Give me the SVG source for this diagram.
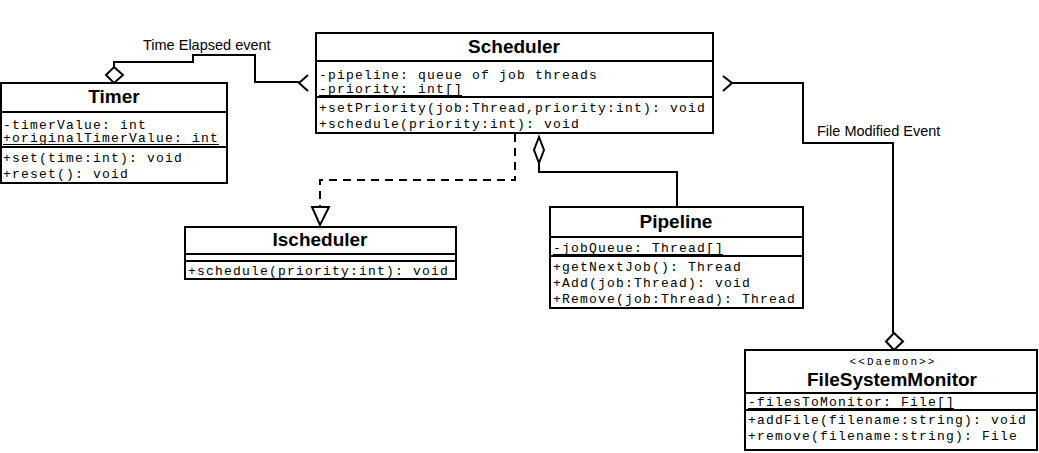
<svg xmlns="http://www.w3.org/2000/svg" width="1039" height="453" viewBox="0 0 1039 453">
<style>
.box{fill:#fff;stroke:#000;stroke-width:2}
.div{stroke:#000;stroke-width:2}
.ul{stroke:#000;stroke-width:1}
.t{font-family:"Liberation Sans",Arial,sans-serif;font-weight:bold;font-size:19px;text-anchor:middle;fill:#000}
.m{font-family:"Liberation Mono","Courier New",monospace;font-size:13px;letter-spacing:1.2px;fill:#000}
.st{font-family:"Liberation Mono","Courier New",monospace;font-size:11px;letter-spacing:2.1px;text-anchor:middle;fill:#000}
.lbl{font-family:"Liberation Sans",Arial,sans-serif;font-size:14.5px;fill:#000}
.ln{fill:none;stroke:#000;stroke-width:2}
.dash{fill:none;stroke:#000;stroke-width:2;stroke-dasharray:8,6}
.hd{fill:#fff;stroke:#000;stroke-width:2}
</style>
<rect width="1039" height="453" fill="#fff"/>
<g id="connectors">
<path class="ln" d="M114,67 V62 H193 V55 H255 V82 H299"/>
<path class="ln" d="M308,75 L299,83 L308,91"/>
<path class="hd" d="M114,67 L123,75 L114,83 L106,75 Z"/>
<text class="lbl" x="143" y="50">Time Elapsed event</text>
<path class="dash" d="M515,134 V180 H320 V207"/>
<path class="hd" d="M312,207 L329,207 L320,225 Z"/>
<path class="ln" d="M539,163 V172 H677 V207"/>
<path class="hd" d="M539,137 L544,150 L539,163 L534,150 Z"/>
<path class="ln" d="M732,83 H803 V143 H893 V333"/>
<path class="ln" d="M723,76 L732,83 L723,91"/>
<path class="hd" d="M894,333 L903,341.5 L894,350 L886,341.5 Z"/>
<text class="lbl" x="817" y="136">File Modified Event</text>
</g>
<g id="Scheduler">
<rect class="box" x="316" y="33" width="397" height="100"/>
<line class="div" x1="316" y1="61" x2="713" y2="61"/>
<line class="div" x1="316" y1="97" x2="713" y2="97"/>
<text class="t" x="514" y="53">Scheduler</text>
<text class="m" x="319" y="79">-pipeline: queue of job threads</text>
<text class="m" x="319" y="93">-priority: int[]</text>
<line class="ul" x1="319" y1="95.5" x2="462" y2="95.5"/>
<text class="m" x="319" y="112">+setPriority(job:Thread,priority:int): void</text>
<text class="m" x="319" y="128">+schedule(priority:int): void</text>
</g>
<g id="Timer">
<rect class="box" x="1" y="83" width="226" height="100"/>
<line class="div" x1="1" y1="112" x2="227" y2="112"/>
<line class="div" x1="1" y1="147" x2="227" y2="147"/>
<text class="t" x="114" y="103">Timer</text>
<text class="m" x="3" y="129">-timerValue: int</text>
<text class="m" x="3" y="142">+originalTimerValue: int</text>
<line class="ul" x1="3" y1="144.5" x2="219" y2="144.5"/>
<text class="m" x="3" y="162">+set(time:int): void</text>
<text class="m" x="3" y="178">+reset(): void</text>
</g>
<g id="Ischeduler">
<rect class="box" x="185" y="227" width="271" height="52"/>
<line class="div" x1="185" y1="254" x2="456" y2="254"/>
<line class="div" x1="185" y1="261" x2="456" y2="261"/>
<text class="t" x="320" y="246">Ischeduler</text>
<text class="m" x="188" y="275">+schedule(priority:int): void</text>
</g>
<g id="Pipeline">
<rect class="box" x="550" y="207" width="253" height="101"/>
<line class="div" x1="550" y1="237" x2="803" y2="237"/>
<line class="div" x1="550" y1="256" x2="803" y2="256"/>
<text class="t" x="676" y="228">Pipeline</text>
<text class="m" x="553" y="252">-jobQueue: Thread[]</text>
<line class="ul" x1="553" y1="254.5" x2="723" y2="254.5"/>
<text class="m" x="553" y="271">+getNextJob(): Thread</text>
<text class="m" x="553" y="287">+Add(job:Thread): void</text>
<text class="m" x="553" y="303">+Remove(job:Thread): Thread</text>
</g>
<g id="FileSystemMonitor">
<rect class="box" x="745" y="350" width="292" height="100"/>
<line class="div" x1="745" y1="393" x2="1037" y2="393"/>
<line class="div" x1="745" y1="410" x2="1037" y2="410"/>
<text class="st" x="893" y="365">&lt;&lt;Daemon&gt;&gt;</text>
<text class="t" x="892" y="386">FileSystemMonitor</text>
<text class="m" x="748" y="406">-filesToMonitor: File[]</text>
<line class="ul" x1="748" y1="408.5" x2="954" y2="408.5"/>
<text class="m" x="748" y="424">+addFile(filename:string): void</text>
<text class="m" x="748" y="440">+remove(filename:string): File</text>
</g>
</svg>
